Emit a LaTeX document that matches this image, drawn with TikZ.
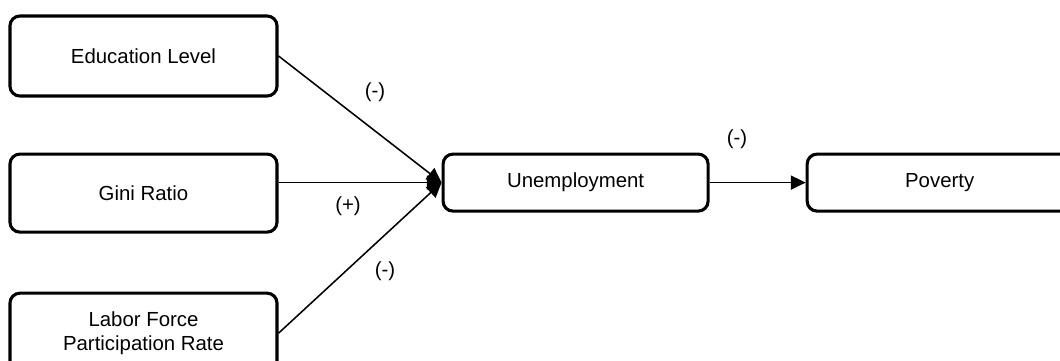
\documentclass[tikz,border=0pt]{standalone}
\usepackage{fontspec}
\setmainfont{Liberation Sans}
\usetikzlibrary{arrows.meta,positioning}
\usepackage{xcolor}
\definecolor{ink}{HTML}{000000}
\tikzset{
  >={Triangle[length=10.5pt,width=10pt]},
  every node/.style={font=\fontsize{14.5}{17}\selectfont,text=ink},
  box/.style={draw=ink,line width=2.2pt,rounded corners=7pt,fill=white,align=center,minimum width=66.75mm,minimum height=20mm},
  arrow/.style={->,line width=1.1pt,draw=ink},
  sign/.style={inner sep=1pt},
}
\begin{document}
\begin{tikzpicture}[node distance=13.75mm and 40.75mm]
\useasboundingbox (0,0) rectangle (26.5,-9);
\node[box] (edu) at (3.5875,-1.4) {Education Level};
\node[box,minimum height=19.5mm,below=13.75mm of edu] (gini) {Gini Ratio};
\node[box,below=14.5mm of gini] (labor) {Labor Force\\Participation Rate};

\node[box,minimum width=66.25mm,minimum height=14.25mm,right=40.75mm of gini.north east,anchor=north west] (unemp) {Unemployment};
\node[box,minimum width=66.25mm,minimum height=14.25mm,right=24mm of unemp] (pov) {Poverty};

\draw[arrow] (edu.east) -- (unemp.west);
\draw[arrow] (gini.east |- unemp.west) -- (unemp.west);
\draw[arrow] (labor.east) -- (unemp.west);
\draw[arrow] (unemp.east) -- (pov.west);

\node[sign] (sedu) at (9.375,-2.3) {(-)};
\node[sign] (sgini) at (8.7,-5.15) {(+)};
\node[sign] (slabor) at (9.625,-6.775) {(-)};
\node[sign] (spov) at (18.425,-3.475) {(-)};
\end{tikzpicture}
\end{document}
